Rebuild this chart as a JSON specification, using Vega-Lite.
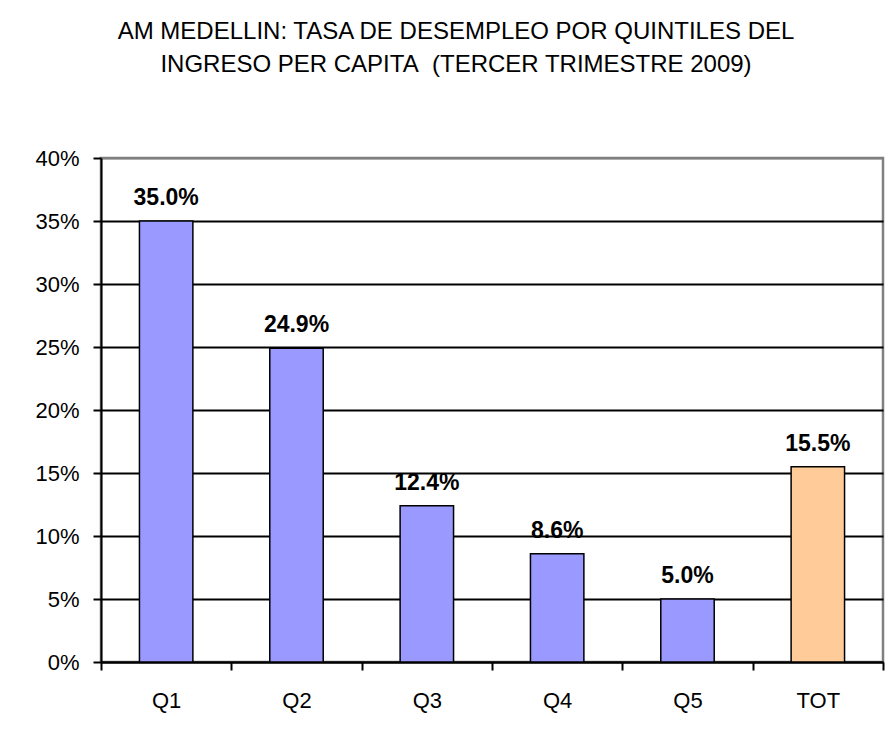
{
  "$schema": "https://vega.github.io/schema/vega-lite/v6.json",
  "width": 782,
  "height": 504,
  "autosize": {"type": "none"},
  "padding": {"left": 101, "top": 158, "right": 5, "bottom": 76},
  "background": "white",
  "title": {
    "text": ["AM MEDELLIN: TASA DE DESEMPLEO POR QUINTILES DEL", "INGRESO PER CAPITA\u00a0 (TERCER TRIMESTRE 2009)"],
    "fontSize": 24,
    "font": "Liberation Sans",
    "fontWeight": "normal",
    "color": "black",
    "lineHeight": 33,
    "anchor": "middle",
    "dx": -36,
    "offset": 70
  },
  "data": {
    "values": [
      {"q": "Q1", "v": 0.350},
      {"q": "Q2", "v": 0.249},
      {"q": "Q3", "v": 0.124},
      {"q": "Q4", "v": 0.086},
      {"q": "Q5", "v": 0.050},
      {"q": "TOT", "v": 0.155}
    ]
  },
  "encoding": {
    "x": {
      "field": "q",
      "type": "nominal",
      "sort": null,
      "scale": {"paddingInner": 0, "paddingOuter": 0},
      "axis": {
        "title": null,
        "labelAngle": 0,
        "tickBand": "extent",
        "tickSize": 8,
        "tickColor": "black",
        "tickWidth": 2,
        "domainColor": "black",
        "domainWidth": 2,
        "labelFontSize": 22,
        "labelFont": "Liberation Sans",
        "labelColor": "black",
        "labelPadding": 20,
        "grid": false
      }
    },
    "y": {
      "field": "v",
      "type": "quantitative",
      "scale": {"domain": [0, 0.4]},
      "axis": {
        "title": null,
        "values": [0, 0.05, 0.1, 0.15, 0.2, 0.25, 0.3, 0.35, 0.4],
        "format": ".0%",
        "grid": true,
        "gridColor": {"condition": {"test": "datum.value >= 0.399", "value": "#808080"}, "value": "black"},
        "gridWidth": 2,
        "tickSize": 8,
        "tickColor": "black",
        "tickWidth": 2,
        "domainColor": "black",
        "domainWidth": 2,
        "labelFontSize": 22,
        "labelFont": "Liberation Sans",
        "labelColor": "black",
        "labelPadding": 14
      }
    }
  },
  "layer": [
    {
      "mark": {"type": "bar", "width": {"band": 0.41}, "stroke": "black", "strokeWidth": 1.5},
      "encoding": {
        "fill": {"condition": {"test": "datum.q === 'TOT'", "value": "#FFCC99"}, "value": "#9999FF"}
      }
    },
    {
      "mark": {"type": "text", "dy": -16, "baseline": "alphabetic", "fontSize": 23, "fontWeight": "bold", "font": "Liberation Sans", "color": "black"},
      "encoding": {
        "text": {"field": "v", "type": "quantitative", "format": ".1%"}
      }
    }
  ],
  "config": {"view": {"stroke": "#808080", "strokeWidth": 2.5}}
}
